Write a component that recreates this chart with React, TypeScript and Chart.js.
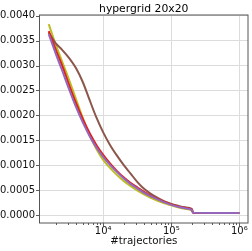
import React, { useEffect, useRef } from "react";
import { Chart, registerables } from "chart.js";

Chart.register(...registerables);

const TITLE = "hypergrid 20x20";
const X_LABEL = "#trajectories";

const X_VALUES = [1585, 1995, 2512, 3162, 3981, 5012, 6310, 7943, 10000, 12589, 15849, 19953, 25119, 31623, 39811, 50119, 63096, 79433, 100000, 125893, 158489, 199526, 210000, 1000000];

const PURPLE = [0.00363, 0.00325, 0.00289, 0.00252, 0.00217, 0.00186, 0.00159, 0.00136, 0.00117, 0.00101, 0.00087, 0.00074, 0.00063, 0.00054, 0.00045, 0.00038, 0.00032, 0.00026, 0.00021, 0.00017, 0.00014, 0.00011, 0.00005, 0.000045];
const RED = [0.00369, 0.00333, 0.00299, 0.00261, 0.00225, 0.00193, 0.00165, 0.00141, 0.00121, 0.00104, 0.00089, 0.00076, 0.00065, 0.00056, 0.00047, 0.00039, 0.00033, 0.00027, 0.00022, 0.00018, 0.00015, 0.00012, 0.00005, 0.000045];
const BROWN = [0.00366, 0.00345, 0.00331, 0.00315, 0.00295, 0.00267, 0.00231, 0.00196, 0.00166, 0.00141, 0.0012, 0.00101, 0.00084, 0.00067, 0.00053, 0.00043, 0.00035, 0.00028, 0.00023, 0.00019, 0.00016, 0.00013, 0.00005, 0.000048];
const OLIVE = [0.00383, 0.00343, 0.00307, 0.00271, 0.00233, 0.00195, 0.0016, 0.00133, 0.00111, 0.00095, 0.00081, 0.00069, 0.00059, 0.0005, 0.00042, 0.00035, 0.00029, 0.00024, 0.0002, 0.00016, 0.00013, 0.0001, 0.00005, 0.000045];

const SERIES = [
  { name: "purple", color: "#9467bd", values: PURPLE },
  { name: "red", color: "#e0201f", values: RED },
  { name: "brown", color: "#8c564b", values: BROWN },
  { name: "olive", color: "#bcbd22", values: OLIVE },
];

const Y_TICKS = [0, 0.0005, 0.001, 0.0015, 0.002, 0.0025, 0.003, 0.0035, 0.004];
const X_TICKS = [2000, 3000, 4000, 5000, 6000, 7000, 8000, 9000, 10000, 20000, 30000, 40000, 50000, 60000, 70000, 80000, 90000, 100000, 200000, 300000, 400000, 500000, 600000, 700000, 800000, 900000, 1000000];

const SUP: Record<string, string> = { "0": "⁰", "1": "¹", "2": "²", "3": "³", "4": "⁴", "5": "⁵", "6": "⁶", "7": "⁷", "8": "⁸", "9": "⁹" };

function isPow10(v: number) {
  const l = Math.log10(v);
  return Math.abs(l - Math.round(l)) < 1e-9;
}

const FONT = "'DejaVu Sans', sans-serif";

const decor = {
  id: "decor",
  afterDraw(chart: any) {
    const { ctx, chartArea: a, scales } = chart;
    ctx.save();
    ctx.strokeStyle = "#333";
    ctx.lineWidth = 0.8;
    const xs = scales.x;
    xs.ticks.forEach((t: any) => {
      const px = Math.round(xs.getPixelForValue(t.value)) + 0.5;
      const len = isPow10(t.value) ? 3.5 : 2;
      ctx.beginPath();
      ctx.moveTo(px, a.bottom);
      ctx.lineTo(px, a.bottom + len);
      ctx.stroke();
    });
    const ys = scales.y;
    ys.ticks.forEach((t: any) => {
      const py = Math.round(ys.getPixelForValue(t.value)) + 0.5;
      ctx.beginPath();
      ctx.moveTo(a.left, py);
      ctx.lineTo(a.left - 3.5, py);
      ctx.stroke();
    });
    ctx.strokeStyle = "#555";
    ctx.lineWidth = 1;
    ctx.strokeRect(a.left, a.top, a.right - a.left, a.bottom - a.top);
    ctx.fillStyle = "#000";
    ctx.font = "10.8px " + FONT;
    ctx.textAlign = "center";
    ctx.textBaseline = "alphabetic";
    ctx.fillText(TITLE, (a.left + a.right) / 2, 11.5);
    ctx.restore();
  },
};

export default function App() {
  const ref = useRef<HTMLCanvasElement | null>(null);
  useEffect(() => {
    if (!ref.current) return;
    const chart = new Chart(ref.current, {
      type: "line",
      data: {
        datasets: SERIES.map((s) => ({
          label: s.name,
          data: X_VALUES.map((x, i) => ({ x, y: s.values[i] })),
          borderColor: s.color,
          borderWidth: 2,
          pointRadius: 0,
          fill: false,
          cubicInterpolationMode: "monotone" as const,
        })),
      },
      options: {
        responsive: false,
        animation: false,
        devicePixelRatio: 1,
        layout: { padding: { left: 0, right: 4, top: 15, bottom: 0 } },
        plugins: { legend: { display: false }, tooltip: { enabled: false }, title: { display: false } },
        scales: {
          x: {
            type: "logarithmic",
            min: 1160,
            max: 1340000,
            afterBuildTicks: (scale: any) => {
              scale.ticks = X_TICKS.map((v) => ({ value: v, major: isPow10(v) }));
            },
            afterFit: (scale: any) => {
              scale.height = 28;
            },
            border: { display: false },
            grid: {
              drawTicks: false,
              color: (c: any) => (c.tick && isPow10(c.tick.value) ? "#dcdcdc" : "rgba(0,0,0,0)"),
              lineWidth: 1,
            },
            ticks: {
              autoSkip: false,
              maxRotation: 0,
              padding: 2,
              color: "#111",
              font: { family: FONT, size: 10 },
              callback: (v: any) => {
                const n = Number(v);
                if (!isPow10(n)) return "";
                const e = String(Math.round(Math.log10(n)));
                return "10" + e.split("").map((d) => SUP[d]).join("");
              },
            },
            title: {
              display: true,
              text: X_LABEL,
              color: "#111",
              font: { family: FONT, size: 10.3 },
              padding: { top: 0, bottom: 3 },
            },
          },
          y: {
            type: "linear",
            min: -0.000154,
            max: 0.004012,
            afterBuildTicks: (scale: any) => {
              scale.ticks = Y_TICKS.map((v) => ({ value: v }));
            },
            afterFit: (scale: any) => {
              scale.width = 39.5;
            },
            border: { display: false },
            grid: { drawTicks: false, color: "#dcdcdc", lineWidth: 1 },
            ticks: {
              padding: 4.5,
              color: "#111",
              font: { family: FONT, size: 10 },
              callback: (v: any) => Number(v).toFixed(4),
            },
          },
        },
      },
      plugins: [decor],
    });
    return () => chart.destroy();
  }, []);
  return (
    <div style={{ position: "fixed", left: 0, top: 0, width: 252, height: 251, background: "#fff" }}>
      <canvas ref={ref} width={252} height={251} />
    </div>
  );
}
